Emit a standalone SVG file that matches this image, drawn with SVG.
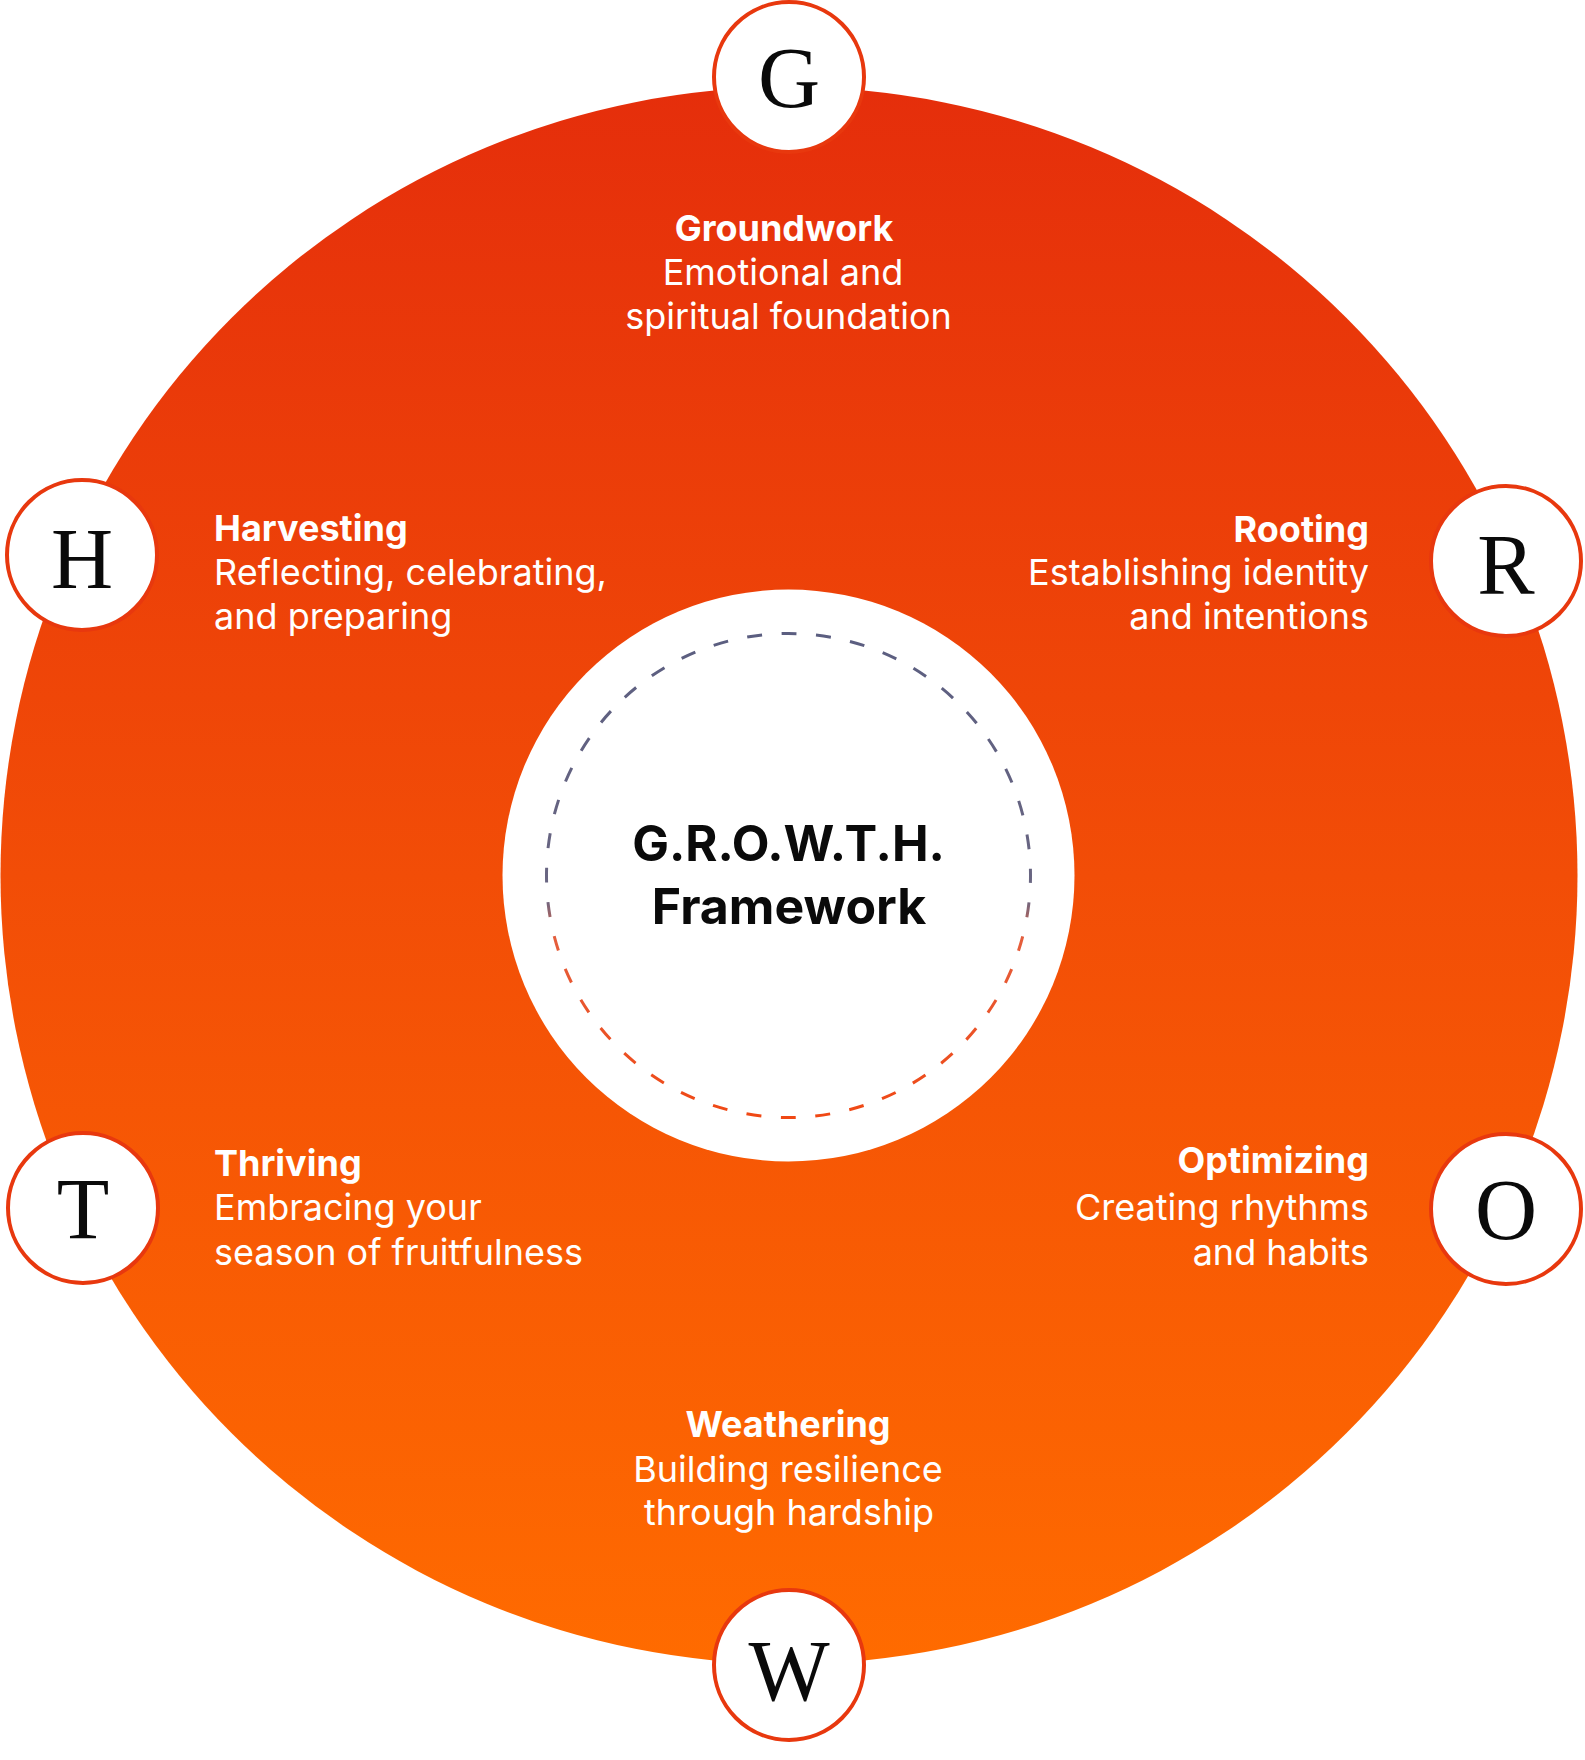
<svg xmlns="http://www.w3.org/2000/svg" width="1585" height="1760" viewBox="0 0 1585 1760">
<defs>
<linearGradient id="bg" x1="0" y1="0" x2="0" y2="1">
<stop offset="0" stop-color="#E52E0B"/>
<stop offset="0.5" stop-color="#F24D07"/>
<stop offset="1" stop-color="#FF6B00"/>
</linearGradient>
<linearGradient id="dash" x1="0" y1="0" x2="0" y2="1">
<stop offset="0" stop-color="#5B5E80"/>
<stop offset="0.55" stop-color="#6A6682"/>
<stop offset="0.63" stop-color="#E55E3C"/>
<stop offset="1" stop-color="#F04814"/>
</linearGradient>
<style>
.badge circle{fill:#ffffff;stroke:#E8380E;stroke-width:4}
.badge text{font-family:"Liberation Serif","Times New Roman",serif;font-size:86px;fill:#0a0a0a;text-anchor:middle}
.lbl text{font-family:Inter,"Noto Sans",sans-serif;fill:#ffffff;font-size:36px}
.lbl .t{font-weight:700}
.center text{font-family:Inter,"Noto Sans",sans-serif;font-weight:700;font-size:49px;fill:#0a0a0a;text-anchor:middle}
</style>
</defs>
<g id="ring">
<circle cx="789" cy="875.5" r="788.5" fill="url(#bg)"/>
</g>
<g id="center" class="center">
<circle cx="788.5" cy="875.5" r="286" fill="#ffffff"/>
<circle cx="788.5" cy="875.5" r="242" fill="none" stroke="url(#dash)" stroke-width="3" stroke-dasharray="15 19.56" stroke-dashoffset="7.5"/>
<text x="788.5" y="861">G.R.O.W.T.H.</text>
<text x="789" y="924" style="font-size:50px">Framework</text>
</g>
<g id="connectors"></g>
<g id="label-groundwork" class="lbl" text-anchor="middle">
<text class="t" x="784" y="241">Groundwork</text>
<text x="783" y="285">Emotional and</text>
<text x="788.5" y="329">spiritual foundation</text>
</g>
<g id="label-rooting" class="lbl" text-anchor="end">
<text class="t" x="1369" y="542">Rooting</text>
<text x="1369" y="585">Establishing identity</text>
<text x="1369" y="629">and intentions</text>
</g>
<g id="label-optimizing" class="lbl" text-anchor="end">
<text class="t" x="1369" y="1173">Optimizing</text>
<text x="1369" y="1220">Creating rhythms</text>
<text x="1369" y="1265">and habits</text>
</g>
<g id="label-weathering" class="lbl" text-anchor="middle">
<text class="t" x="788" y="1437">Weathering</text>
<text x="788" y="1482">Building resilience</text>
<text x="789" y="1525">through hardship</text>
</g>
<g id="label-thriving" class="lbl" text-anchor="start">
<text class="t" x="214" y="1176">Thriving</text>
<text x="214" y="1220">Embracing your</text>
<text x="214" y="1265">season of fruitfulness</text>
</g>
<g id="label-harvesting" class="lbl" text-anchor="start">
<text class="t" x="214" y="541">Harvesting</text>
<text x="214" y="585">Reflecting, celebrating,</text>
<text x="214" y="629">and preparing</text>
</g>
<g id="node-G" class="badge"><circle cx="789" cy="77" r="75"/><text x="789" y="107">G</text></g>
<g id="node-R" class="badge"><circle cx="1506" cy="561" r="75"/><text x="1506" y="594">R</text></g>
<g id="node-O" class="badge"><circle cx="1506" cy="1209" r="75"/><text x="1506" y="1239">O</text></g>
<g id="node-W" class="badge"><circle cx="789" cy="1665" r="75"/><text x="789" y="1700">W</text></g>
<g id="node-T" class="badge"><circle cx="83" cy="1208" r="75"/><text x="83" y="1238">T</text></g>
<g id="node-H" class="badge"><circle cx="82" cy="555" r="75"/><text x="82" y="588">H</text></g>
</svg>
